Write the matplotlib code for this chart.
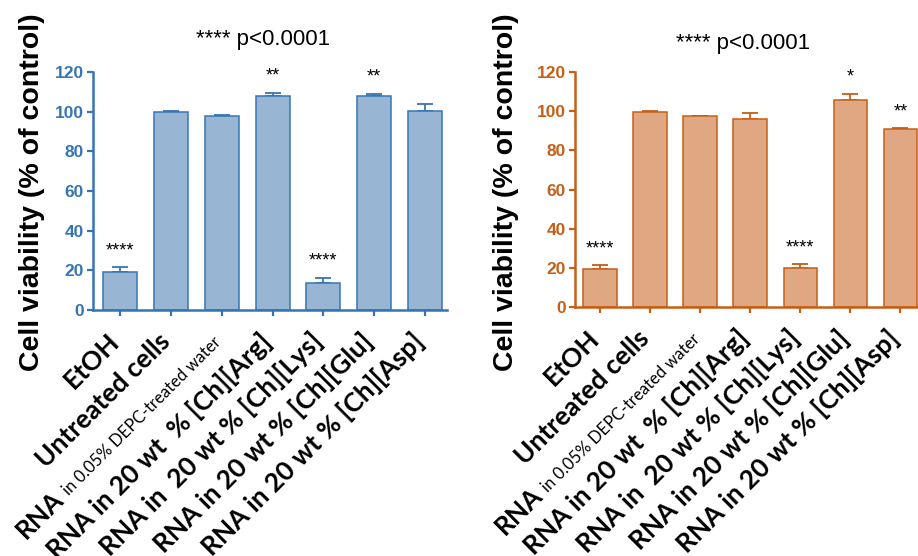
import numpy as np
import matplotlib.pyplot as plt

labels = ["EtOH", "Untreated cells", "", "RNA in 20 wt  % [Ch][Arg]",
          "RNA in  20 wt % [Ch][Lys]", "RNA in 20 wt % [Ch][Glu]",
          "RNA in 20 wt % [Ch][Asp]"]
depc_main = "RNA"
depc_small = "in 0.05% DEPC-treated water"

left_vals = [19.3, 99.8, 97.8, 107.9, 13.6, 108.1, 100.4]
left_err = [2.2, 0.3, 0.3, 1.7, 2.7, 1.0, 3.6]
left_stars = ["****", "", "", "**", "****", "**", ""]

right_vals = [19.1, 99.7, 97.5, 95.9, 19.8, 106.0, 91.0]
right_err = [2.1, 0.3, 0.3, 3.4, 2.2, 3.1, 0.5]
right_stars = ["****", "", "", "", "****", "*", "**"]

yticks = [0, 20, 40, 60, 80, 100, 120]
ylabel = "Cell viability (% of control)"
title = "**** p<0.0001"

W, H = 918, 556
fig = plt.figure(figsize=(W / 100, H / 100), dpi=100)

lab_font = "Lato"
num_font = "Liberation Sans"
lab_off = (0.5, -24)   # label anchor offset from tick, points


def panel(rect, vals, err, stars, line_c, fill_c, xlim):
    ax = fig.add_axes(rect)
    x = np.arange(len(vals))
    ax.bar(x, vals, width=0.67, color=fill_c, edgecolor=line_c, linewidth=1.1,
           zorder=2, clip_on=False)
    ax.errorbar(x, vals, yerr=[np.zeros(len(err)), err], fmt="none",
                ecolor=line_c, elinewidth=1.3, capsize=6, capthick=1.3,
                zorder=1, clip_on=False)
    for i, s in enumerate(stars):
        if s:
            ax.text(i, vals[i] + err[i] + 6, s, ha="center", va="baseline",
                    fontsize=13, family=num_font, clip_on=False)
    ax.set_xlim(*xlim)
    ax.set_ylim(0, 120)
    ax.set_yticks(yticks)
    for sp in ["top", "right"]:
        ax.spines[sp].set_visible(False)
    for sp in ["left", "bottom"]:
        ax.spines[sp].set_color(line_c)
        ax.spines[sp].set_linewidth(1.8)
    ax.tick_params(axis="both", colors=line_c, width=1.6, length=4.5)
    ax.tick_params(axis="y", labelsize=12.5, pad=2)
    for t in ax.get_yticklabels():
        t.set_fontweight("bold")
        t.set_family(num_font)
    ax.set_xticks(x)
    ax.set_xticklabels([])
    for i, lab in enumerate(labels):
        if lab:
            ax.annotate(lab, xy=(i, 0), xycoords=("data", "axes fraction"),
                        xytext=lab_off, textcoords="offset points",
                        rotation=45, rotation_mode="anchor", ha="right",
                        va="baseline", fontsize=19, fontweight="bold",
                        family=lab_font, annotation_clip=False)
    # mixed-size label: small regular text, then bold "RNA" before it
    ax.annotate(depc_small, xy=(2, 0), xycoords=("data", "axes fraction"),
                xytext=lab_off, textcoords="offset points", rotation=45,
                rotation_mode="anchor", ha="right", va="baseline",
                fontsize=12, family=lab_font, annotation_clip=False)
    r = fig.canvas.get_renderer()
    tmp = fig.text(0, 0, depc_small, fontsize=12, family=lab_font)
    w = tmp.get_window_extent(r).width * 72 / fig.dpi + 4
    tmp.remove()
    c = np.cos(np.pi / 4)
    ax.annotate(depc_main, xy=(2, 0), xycoords=("data", "axes fraction"),
                xytext=(lab_off[0] - w * c, lab_off[1] - w * c),
                textcoords="offset points", rotation=45,
                rotation_mode="anchor", ha="right", va="baseline",
                fontsize=19, fontweight="bold", family=lab_font,
                annotation_clip=False)
    return ax


panel([93 / W, 1 - 310 / H, (447 - 93) / W, (310 - 72) / H],
      left_vals, left_err, left_stars, "#3675b4", "#98b6d4", (-0.53, 6.43))
panel([575 / W, 1 - 306.7 / H, (918 - 575) / W, (306.7 - 72.3) / H],
      right_vals, right_err, right_stars, "#c65f17", "#e0a882", (-0.5, 6.35))

for cx, cy in [(32, 192), (506, 192)]:
    fig.text(cx / W, 1 - cy / H, ylabel, rotation=90, ha="center", va="center",
             fontsize=20.5, fontweight="bold", family=num_font)
for cx, cy in [(263, 40), (743, 43)]:
    fig.text(cx / W, 1 - cy / H, title, ha="center", va="center",
             fontsize=16, family=num_font)

fig.savefig("out.png", dpi=100)
